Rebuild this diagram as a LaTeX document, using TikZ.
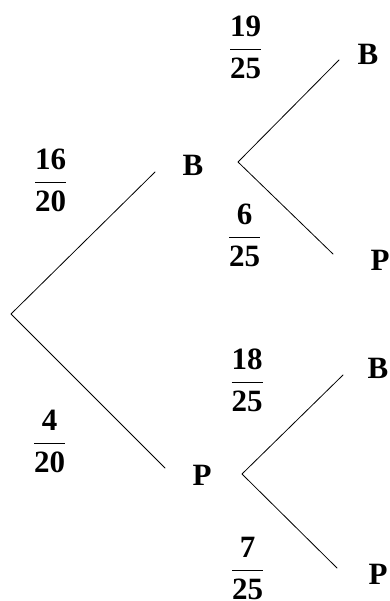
\documentclass[tikz,border=0pt]{standalone}
\usepackage{fix-cm}
\usepackage{amsmath}
\usepackage{fontspec}
\setmainfont{Liberation Serif}
\begin{document}
\begin{tikzpicture}[x=1bp,y=-1bp,line join=round,line cap=round,
	font=\fontsize{31bp}{37bp}\selectfont\bfseries]
\useasboundingbox (0,0) rectangle (389,601);
\coordinate (R) at (11,314);
\coordinate (B0) at (155,172);
\coordinate (P0) at (165,468);
\coordinate (B) at (238,162);
\coordinate (P) at (242,474);
\coordinate (BB) at (339,60);
\coordinate (BP) at (333,254);
\coordinate (PB) at (343,375);
\coordinate (PP) at (337,568);
\draw[line width=0.8bp]
	(R) -- (B0)
	(R) -- (P0)
	(B) -- (BB)
	(B) -- (BP)
	(P) -- (PB)
	(P) -- (PP);
\foreach \x/\y/\nom/\lab in {193/176/lB/B, 202/485/lP/P,
	368/65/lBB/B, 380/270/lBP/P, 378/378/lPB/B, 378/584/lPP/P}
	{\node[anchor=base,inner sep=0pt] (\nom) at (\x,\y) {\lab};}
\foreach \x/\y/\n/\d/\nom in {50.5/182/16/20/fB, 49.5/443/4/20/fP,
	245.5/49/19/25/fBB, 244.5/237/6/25/fBP, 247/382/18/25/fPB, 247.5/570/7/25/fPP}
	{\node[anchor=base,inner sep=0pt] (\nom) at (\x,\y+8) {$\dfrac{\textbf{\n}}{\textbf{\d}}$};}
\end{tikzpicture}
\end{document}
